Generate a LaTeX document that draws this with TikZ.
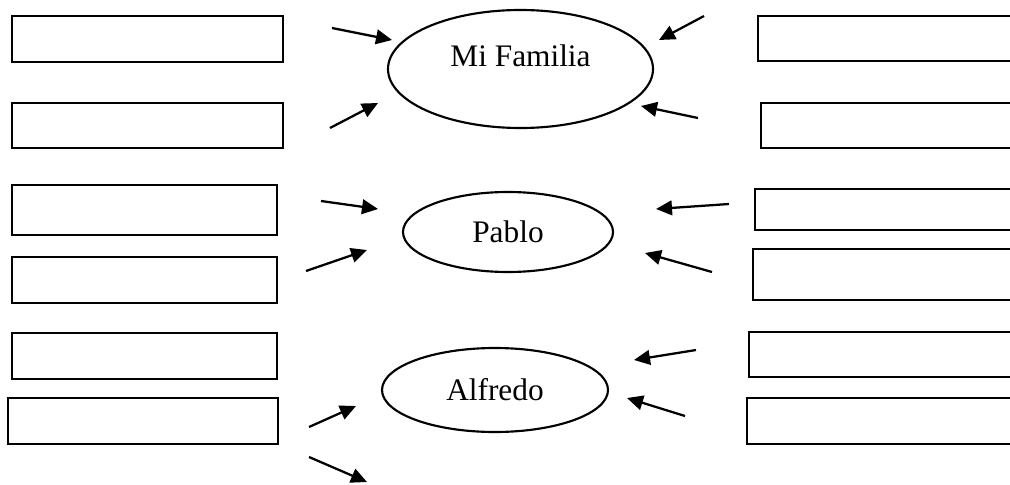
\documentclass[tikz,border=0pt]{standalone}
\usepackage{fontspec}
\setmainfont{Liberation Serif}
\usetikzlibrary{arrows.meta,fit,shapes.geometric}
\tikzset{
  box/.style={draw=black, line width=1.7pt, rectangle, inner sep=0pt, fill=white},
  oval/.style={draw=black, line width=1.6pt, ellipse, inner sep=0pt, font=\fontsize{23.5pt}{27pt}\selectfont},
  arr/.style={line width=1.7pt, -{Triangle[length=12pt,width=11pt]}}
}
\begin{document}
\begin{tikzpicture}[x=0.75pt,y=-0.75pt]
\useasboundingbox (0,0) rectangle (1010,485);
\clip (0,0) rectangle (1010,485);
% left boxes
\node[box, fit={(12,16) (283,62)}] (l1) {};
\node[box, fit={(12,103) (283,148)}] (l2) {};
\node[box, fit={(12,185) (277,235)}] (l3) {};
\node[box, fit={(12,257) (277,303)}] (l4) {};
\node[box, fit={(12,333) (277,379)}] (l5) {};
\node[box, fit={(8,398) (278,444)}] (l6) {};
% right boxes
\node[box, fit={(758,16) (1030,61)}] (r1) {};
\node[box, fit={(761,103) (1030,148)}] (r2) {};
\node[box, fit={(755,189) (1030,230)}] (r3) {};
\node[box, fit={(753,249) (1030,300)}] (r4) {};
\node[box, fit={(749,332) (1030,377)}] (r5) {};
\node[box, fit={(747,398) (1030,444)}] (r6) {};
% ellipses
\node[oval, minimum width=198.75pt, minimum height=88.5pt, text height=15.75pt, text depth=18.75pt] (fam) at (520.5,69) {Mi Familia};
\node[oval, minimum width=157.5pt, minimum height=60pt] (pablo) at (508,232) {Pablo};
\node[oval, minimum width=169.5pt, minimum height=63pt] (alfredo) at (495,390) {Alfredo};
% arrow end points
\coordinate (a1s) at (332,28);  \coordinate (a1e) at (392,40);
\coordinate (a2s) at (330,128); \coordinate (a2e) at (378,103);
\coordinate (a3s) at (704,16);  \coordinate (a3e) at (659,40);
\coordinate (a4s) at (698,118); \coordinate (a4e) at (641,106);
\coordinate (a5s) at (321,201); \coordinate (a5e) at (378,209);
\coordinate (a6s) at (306,271); \coordinate (a6e) at (367,250);
\coordinate (a7s) at (729,204); \coordinate (a7e) at (656,209);
\coordinate (a8s) at (712,272); \coordinate (a8e) at (645,253);
\coordinate (a9s) at (309,427); \coordinate (a9e) at (356,406);
\coordinate (a10s) at (309,457); \coordinate (a10e) at (367,482);
\coordinate (a11s) at (696,350); \coordinate (a11e) at (634,360);
\coordinate (a12s) at (685,416); \coordinate (a12e) at (627,398);
\foreach \i in {1,...,12} {\draw[arr] (a\i s) -- (a\i e);}
\end{tikzpicture}
\end{document}
